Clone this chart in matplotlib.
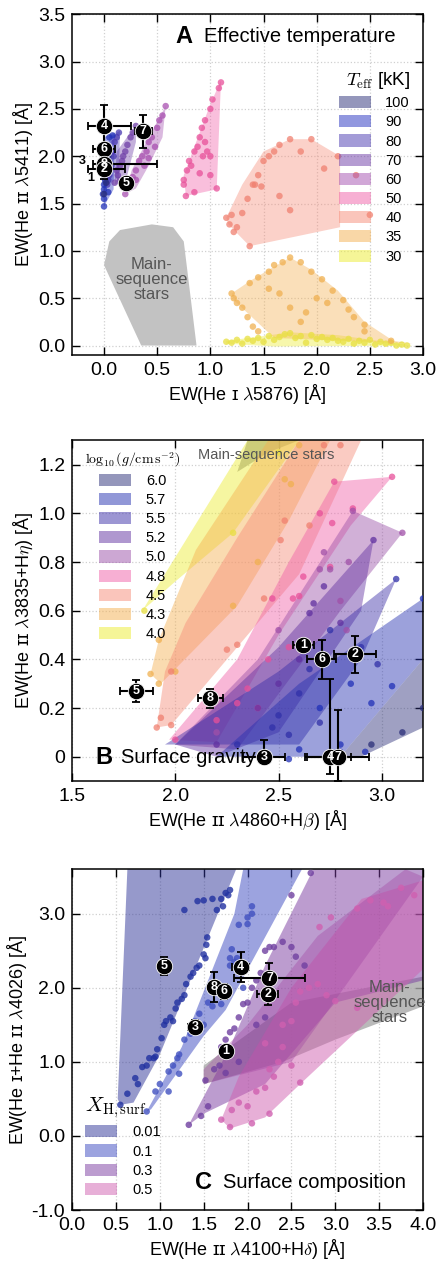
import matplotlib
matplotlib.use("Agg")
import matplotlib.pyplot as plt
from matplotlib.patches import Polygon, Patch
import numpy as np

plt.rcParams['font.family'] = ['Liberation Sans', 'DejaVu Sans']
plt.rcParams['mathtext.fontset'] = 'cm'

# ---------------- panel A: effective temperature ----------------
teff_labels = ['100', '90', '80', '70', '60', '50', '40', '35', '30']
teff_fill = ['#2a2e78', '#2530c0', '#4838b0', '#6c3aa6', '#a450b0', '#f060a8', '#f68c78', '#f4b050', '#ecec30']
teff_dot = ['#2a2e78', '#2030b8', '#4838b0', '#7040a8', '#a850b0', '#e8509a', '#f08070', '#f0b050', '#e8e040']

teffA_poly = {
    '100': [(0.0, 1.6), (0.0, 2.05), (0.04, 2.02), (0.03, 1.7)],
    '90': [(0.0, 1.47), (-0.02, 1.8), (0.0, 2.2), (0.1, 2.25), (0.09, 1.65)],
    '80': [(0.02, 1.68), (0.05, 2.2), (0.15, 2.27), (0.14, 1.78)],
    '70': [(0.1, 1.7), (0.12, 2.05), (0.3, 2.33), (0.3, 2.15), (0.2, 1.72)],
    '60': [(0.2, 1.6), (0.26, 1.85), (0.42, 2.2), (0.58, 2.53), (0.55, 2.2), (0.42, 1.9), (0.3, 1.66)],
    '50': [(0.77, 1.58), (0.75, 1.8), (0.85, 2.1), (1.0, 2.55), (1.1, 2.8), (1.06, 1.65)],
    '40': [(1.15, 1.35), (1.3, 1.7), (1.5, 2.05), (1.75, 2.18), (1.95, 2.18), (2.22, 2.0),
           (2.22, 1.25), (1.37, 1.05), (1.17, 1.28)],
    '35': [(1.2, 0.55), (1.37, 0.68), (1.55, 0.8), (1.75, 0.93), (1.95, 0.8), (2.2, 0.58),
           (2.45, 0.25), (2.72, 0.05), (2.9, 0.02), (1.6, 0.08), (1.22, 0.48)],
    '30': [(1.15, 0.05), (1.5, 0.1), (1.75, 0.14), (2.2, 0.11), (2.9, 0.0), (1.6, -0.01), (1.15, 0.02)],
}

teffA_x = {
    '100': [0.0, 0.02, 0.02, 0.04],
    '90': [0.0, 0.0, -0.01, 0.0, 0.0, 0.01, 0.0, 0.02, 0.03, 0.03, 0.05, 0.08, 0.02, 0.04],
    '80': [0.03, 0.05, 0.05, 0.08, 0.1, 0.12, 0.14, 0.07, 0.09, 0.04],
    '70': [0.1, 0.13, 0.15, 0.18, 0.2, 0.22, 0.25, 0.3, 0.27, 0.17, 0.12, 0.15],
    '60': [0.2, 0.22, 0.27, 0.3, 0.33, 0.36, 0.4, 0.42, 0.45, 0.5, 0.52, 0.55, 0.58, 0.48, 0.42, 0.38, 0.3],
    '50': [0.77, 0.75, 0.75, 0.78, 0.8, 0.85, 0.88, 0.9, 0.92, 0.95, 0.97, 1.0, 1.02, 1.08, 1.1,
           1.06, 0.9, 0.93, 1.0, 0.85, 0.95, 1.0, 0.82],
    '40': [1.15, 1.2, 1.18, 1.25, 1.3, 1.35, 1.42, 1.45, 1.5, 1.55, 1.65, 1.75, 1.95, 2.2, 1.85,
           1.6, 1.4, 1.48, 1.65, 1.37, 1.75, 2.07, 2.37, 2.5, 1.22],
    '35': [1.2, 1.22, 1.25, 1.3, 1.35, 1.4, 1.45, 1.37, 1.45, 1.55, 1.6, 1.68, 1.75, 1.85, 1.95,
           2.05, 2.15, 2.25, 2.3, 2.35, 2.45, 2.45, 2.7, 1.65, 1.75, 1.9, 1.85, 2.0, 2.1, 1.55],
    '30': [1.15, 1.2, 1.25, 1.3, 1.35, 1.4, 1.45, 1.5, 1.55, 1.6, 1.65, 1.7, 1.75, 1.8, 1.85, 1.9,
           1.95, 2.0, 2.05, 2.1, 2.15, 2.2, 2.25, 2.3, 2.35, 2.4, 2.45, 2.5, 2.55, 2.6, 2.65, 2.7,
           2.75, 2.8, 2.85],
}
teffA_y = {
    '100': [1.6, 1.72, 1.88, 2.0],
    '90': [1.47, 1.55, 1.6, 1.65, 1.7, 1.75, 1.8, 1.9, 2.0, 2.1, 2.2, 2.22, 1.85, 1.62],
    '80': [1.7, 1.8, 1.95, 2.05, 2.15, 2.2, 2.25, 1.9, 2.0, 1.75],
    '70': [1.72, 1.8, 1.9, 2.0, 2.05, 2.12, 2.2, 2.32, 2.25, 1.95, 1.85, 1.75],
    '60': [1.6, 1.68, 1.78, 1.85, 1.95, 2.0, 2.05, 2.15, 2.2, 2.3, 2.38, 2.43, 2.53, 2.1, 1.98, 1.9, 1.75],
    '50': [1.58, 1.7, 1.75, 1.85, 1.95, 2.05, 2.1, 2.2, 2.3, 2.15, 2.05, 2.5, 2.6, 2.72, 2.78,
           1.66, 1.82, 2.0, 1.8, 1.62, 2.38, 2.0, 1.9],
    '40': [1.35, 1.38, 1.28, 1.25, 1.4, 1.55, 1.7, 1.8, 1.95, 2.0, 2.12, 2.18, 2.18, 2.0, 2.05,
           2.05, 1.7, 1.68, 1.58, 1.05, 1.43, 1.87, 1.8, 1.38, 1.2],
    '35': [0.55, 0.5, 0.45, 0.4, 0.3, 0.2, 0.15, 0.66, 0.72, 0.78, 0.85, 0.88, 0.93, 0.88, 0.78,
           0.7, 0.58, 0.48, 0.38, 0.3, 0.22, 0.15, 0.05, 0.55, 0.4, 0.35, 0.25, 0.5, 0.45, 0.6],
    '30': [0.04, 0.03, 0.06, 0.02, 0.07, 0.05, 0.08, 0.04, 0.1, 0.06, 0.09, 0.12, 0.13, 0.08, 0.1,
           0.03, 0.11, 0.07, 0.09, 0.06, 0.08, 0.05, 0.04, 0.07, 0.02, 0.05, 0.03, 0.06, 0.01, 0.04,
           0.02, 0.03, 0.0, 0.01, 0.0],
}
msA_poly = [(0.0, 0.85), (0.05, 1.1), (0.15, 1.22), (0.45, 1.28), (0.65, 1.25), (0.75, 1.1),
            (0.87, 0.0), (0.35, 0.0)]

starsA_id = ['4', '7', '6', '8', '2', '5']
starsA_x = [0.0, 0.37, 0.0, 0.0, 0.0, 0.21]
starsA_y = [2.32, 2.27, 2.08, 1.92, 1.86, 1.72]
starsA_xlo = [0.15, 0.08, 0.1, 0.1, 0.15, 0.05]
starsA_xhi = [0.25, 0.08, 0.1, 0.5, 0.2, 0.05]
starsA_ylo = [0.22, 0.18, 0.05, 0.05, 0.1, 0.05]
starsA_yhi = [0.22, 0.17, 0.05, 0.05, 0.08, 0.05]

# ---------------- panel B: surface gravity ----------------
logg_labels = ['6.0', '5.7', '5.5', '5.2', '5.0', '4.8', '4.5', '4.3', '4.0']
logg_fill = ['#2a2e78', '#2530b0', '#3a2ea8', '#6030a0', '#9a50a8', '#f060a8', '#f68c78', '#f4b050', '#ecec30']
logg_dot = ['#2a2e78', '#2030b8', '#3030a8', '#6030a0', '#a050a8', '#e8509a', '#f08070', '#f0b050', '#e8e040']

loggB_poly = {
    '4.0': [(1.84, 0.6), (2.35, 1.3), (2.6, 1.3), (2.28, 0.92), (2.0, 0.72)],
    '4.3': [(1.88, 0.34), (1.93, 0.3), (2.3, 0.62), (2.55, 0.97), (2.75, 1.3), (2.45, 1.3),
            (2.1, 0.85), (1.92, 0.48)],
    '4.5': [(1.91, 0.12), (1.98, 0.13), (2.3, 0.45), (2.6, 0.75), (2.9, 1.3), (2.6, 1.3),
            (2.3, 0.9), (2.05, 0.55), (1.95, 0.35)],
    '4.8': [(1.97, 0.07), (2.3, 0.4), (2.55, 0.8), (2.77, 1.13), (3.05, 1.15), (2.85, 0.95),
            (2.5, 0.5), (2.2, 0.06)],
    '5.0': [(2.0, 0.05), (2.4, 0.4), (2.86, 1.01), (3.1, 0.92), (2.8, 0.6), (2.3, 0.03)],
    '5.2': [(2.0, 0.05), (2.5, 0.45), (2.96, 0.89), (2.9, 0.6), (2.5, 0.1), (2.2, 0.0)],
    '5.5': [(1.95, 0.05), (2.5, 0.35), (3.07, 0.73), (2.9, 0.4), (2.6, 0.05)],
    '5.7': [(2.2, 0.0), (2.6, 0.3), (3.2, 0.65), (3.2, 0.4), (2.8, 0.0)],
    '6.0': [(2.8, 0.0), (3.2, 0.4), (3.2, 0.12), (2.9, 0.0)],
}
loggB_x = {
    '4.0': [1.85, 2.28, 2.5],
    '4.3': [1.88, 1.92, 1.92, 2.28, 2.4, 2.53, 2.56, 2.0, 2.6],
    '4.5': [1.91, 1.93, 1.98, 1.98, 2.25, 2.3, 2.43, 2.51, 2.53, 2.8, 2.72, 2.65],
    '4.8': [2.0, 2.2, 2.3, 2.35, 2.45, 2.47, 2.57, 2.62, 2.7, 2.77, 2.76, 3.05, 2.86, 2.4, 2.55, 2.6, 2.75],
    '5.0': [2.2, 2.5, 2.6, 2.72, 2.7, 2.75, 2.84, 2.8, 2.86, 3.1, 2.83],
    '5.2': [2.2, 2.4, 2.5, 2.65, 2.67, 2.72, 2.96, 2.8, 2.6],
    '5.5': [2.3, 2.47, 2.5, 2.55, 2.6, 2.65, 2.75, 3.07, 2.9, 2.98, 2.7, 2.8],
    '5.7': [2.45, 2.55, 2.6, 2.7, 2.85, 2.95, 3.05, 3.2, 2.8, 2.92],
    '6.0': [2.8, 2.95, 3.1, 3.2],
}
loggB_y = {
    '4.0': [0.6, 0.92, 1.25],
    '4.3': [0.34, 0.3, 0.48, 0.62, 0.8, 1.14, 1.12, 0.35, 1.28],
    '4.5': [0.12, 0.16, 0.13, 0.35, 0.44, 0.46, 0.65, 0.89, 0.97, 1.28, 1.28, 0.95],
    '4.8': [0.07, 0.15, 0.22, 0.28, 0.4, 0.65, 0.65, 0.74, 1.0, 1.13, 0.96, 1.15, 1.02, 0.2, 0.45, 0.66, 0.78],
    '5.0': [0.1, 0.52, 0.45, 0.84, 0.77, 0.77, 0.8, 0.64, 1.01, 0.92, 0.52],
    '5.2': [0.05, 0.2, 0.3, 0.59, 0.63, 0.7, 0.89, 0.55, 0.4],
    '5.5': [0.05, 0.12, 0.17, 0.09, 0.26, 0.36, 0.52, 0.73, 0.45, 0.38, 0.14, 0.02],
    '5.7': [0.0, -0.01, 0.03, 0.2, 0.3, 0.22, 0.29, 0.65, 0.05, 0.02],
    '6.0': [0.0, 0.05, 0.1, 0.2],
}
msB_poly = [(2.3, 1.17), (2.45, 1.25), (2.6, 1.3), (2.35, 1.3)]

starsB_id = ['5', '8', '1', '6', '2', '3', '4', '7']
starsB_x = [1.81, 2.17, 2.62, 2.71, 2.87, 2.43, 2.75, 2.79]
starsB_y = [0.27, 0.24, 0.46, 0.40, 0.42, 0.0, 0.0, 0.0]
starsB_xlo = [0.08, 0.06, 0.05, 0.07, 0.1, 0.1, 0.12, 0.15]
starsB_xhi = [0.08, 0.06, 0.05, 0.07, 0.1, 0.1, 0.1, 0.15]
starsB_ylo = [0.045, 0.04, 0.02, 0.08, 0.075, 0.0, 0.07, 0.1]
starsB_yhi = [0.045, 0.04, 0.02, 0.08, 0.075, 0.07, 0.32, 0.19]

# ---------------- panel C: surface composition ----------------
xh_labels = ['0.01', '0.1', '0.3', '0.5']
xh_fill = ['#2e3498', '#3a48c0', '#7a3aa0', '#d060b0']
xh_dot = ['#2030a0', '#4050c0', '#7040a0', '#d060b0']

xhC_poly = {
    '0.01': [(0.52, 0.5), (0.63, 3.6), (1.87, 3.6), (1.0, 1.1), (0.7, 0.45), (0.55, 0.42)],
    '0.1': [(0.85, 0.33), (1.25, 1.2), (1.85, 3.0), (1.95, 3.6), (2.62, 3.6), (1.75, 1.7),
            (1.5, 1.35), (0.9, 0.36)],
    '0.3': [(1.33, 0.15), (1.8, 1.2), (2.2, 2.3), (2.75, 3.6), (4.0, 3.6), (4.0, 2.1), (3.0, 1.8),
            (2.2, 0.7), (1.5, 0.3)],
    '0.5': [(1.7, 0.22), (1.8, 0.1), (2.2, 0.25), (2.6, 0.7), (4.0, 2.25), (4.0, 3.45), (3.3, 3.2),
            (2.5, 2.0), (1.9, 0.8)],
}
xhC_x = {
    '0.01': [0.55, 0.63, 0.72, 0.75, 0.8, 0.85, 0.88, 0.93, 0.95, 0.97, 1.02, 1.05, 1.07, 1.12,
             1.15, 1.18, 1.2, 1.25, 1.28, 1.3, 1.35, 1.38, 1.42, 1.45, 1.5, 1.53, 1.54, 1.52,
             1.28, 1.5, 1.6, 1.7, 1.75, 1.8, 1.78, 1.72, 1.65, 1.43],
    '0.1': [0.85, 0.95, 1.0, 1.1, 1.15, 1.2, 1.22, 1.28, 1.35, 1.4, 1.45, 1.5, 1.55, 1.6, 1.7,
            1.75, 1.8, 1.8, 1.82, 1.88, 1.95, 1.9, 2.0, 2.05, 2.05, 2.0, 1.85, 1.22, 1.1],
    '0.3': [1.33, 1.47, 1.55, 1.52, 1.62, 1.68, 1.7, 1.75, 1.8, 1.85, 1.9, 1.95, 2.0, 2.05, 2.1,
            2.15, 2.2, 2.25, 2.3, 2.4, 2.5, 2.55, 2.65, 2.72, 2.5, 1.9, 2.1, 2.2, 1.75],
    '0.5': [1.7, 1.8, 1.82, 1.9, 2.0, 2.05, 2.1, 2.2, 2.25, 2.3, 2.25, 2.35, 2.4, 2.5, 2.4, 2.5,
            2.55, 2.6, 2.6, 2.7, 2.8, 2.9, 3.0, 2.82, 2.95, 3.25, 3.4, 3.55, 3.6, 3.75, 3.9, 3.25, 2.2],
}
xhC_y = {
    '0.01': [0.42, 0.57, 0.78, 0.7, 0.93, 0.95, 1.05, 1.05, 1.07, 1.17, 1.32, 1.5, 1.55, 1.6,
             1.55, 1.72, 1.8, 1.85, 1.9, 2.05, 2.15, 2.2, 2.27, 2.3, 2.45, 2.58, 2.68, 2.4,
             3.05, 3.18, 3.2, 3.2, 3.28, 3.32, 3.25, 3.1, 3.05, 3.17],
    '0.1': [0.33, 0.6, 0.7, 0.87, 0.95, 1.05, 1.1, 1.3, 1.38, 1.55, 1.65, 1.5, 1.8, 1.75, 1.78,
            2.0, 2.3, 2.4, 2.52, 2.4, 2.0, 2.85, 2.95, 3.0, 3.1, 2.86, 2.35, 0.84, 0.6],
    '0.3': [0.15, 0.27, 0.4, 0.75, 0.9, 0.95, 1.2, 1.3, 1.4, 1.45, 1.6, 1.78, 1.8, 2.0, 2.1,
            2.2, 2.5, 2.55, 2.55, 2.62, 2.55, 2.42, 2.3, 3.55, 3.25, 1.0, 1.5, 1.6, 0.85],
    '0.5': [0.22, 0.12, 0.35, 0.45, 0.4, 0.17, 0.6, 0.65, 0.3, 0.8, 0.9, 1.0, 1.2, 0.95, 1.5,
            1.55, 1.8, 0.72, 1.95, 2.0, 2.05, 1.9, 1.82, 2.82, 2.95, 3.07, 3.18, 3.15, 3.1, 3.35,
            3.25, 1.73, 1.25],
}
xhC_extra = [(1.5, 0.7), (2.5, 1.0), (4.0, 3.5), (3.8, 3.6), (2.8, 2.7), (2.0, 1.5), (1.5, 0.9)]
msC_poly = [(1.5, 0.7), (1.5, 0.95), (2.5, 1.8), (4.0, 2.15), (4.0, 1.75), (3.0, 1.3), (2.4, 1.0)]

starsC_id = ['5', '4', '7', '8', '6', '2', '3', '1']
starsC_x = [1.05, 1.92, 2.25, 1.62, 1.73, 2.23, 1.4, 1.75]
starsC_y = [2.29, 2.28, 2.13, 2.01, 1.95, 1.92, 1.47, 1.15]
starsC_xerr = [0.0, 0.1, 0.4, 0.05, 0.05, 0.12, 0.08, 0.0]
starsC_yerr = [0.12, 0.2, 0.2, 0.2, 0.1, 0.15, 0.1, 0.0]


def style_axes(ax):
    ax.tick_params(direction='in', top=True, right=True, length=6, width=1, labelsize=14, pad=5)
    ax.grid(True, color='#d0d0d0', linestyle=':', linewidth=0.9)
    ax.set_axisbelow(True)
    for s in ax.spines.values():
        s.set_linewidth(1.1)


def draw_stars(ax, ids, xs, ys, xerr, yerr):
    ax.errorbar(xs, ys, xerr=xerr, yerr=yerr, fmt='none', ecolor='black', elinewidth=1.5,
                capsize=3, capthick=1.3, zorder=8)
    ax.scatter(xs, ys, s=140, c='black', edgecolors='white', linewidths=0.6, zorder=9)
    for i, x, y in zip(ids, xs, ys):
        ax.text(x, y, i, color='white', fontsize=9, fontweight='bold', ha='center', va='center', zorder=10)


def legend_handles(labels, fills, alpha):
    return [Patch(facecolor=c, edgecolor='none', alpha=alpha, label=l) for l, c in zip(labels, fills)]


fig = plt.figure(figsize=(4.37, 12.62), dpi=100)

# ---- A ----
axA = fig.add_axes([0.165, 0.7187, 0.803, 0.270])
style_axes(axA)
axA.add_patch(Polygon(msA_poly, closed=True, facecolor='#c2c2c2', edgecolor='none', zorder=1))
axA.text(0.45, 0.7, 'Main-\nsequence\nstars', ha='center', va='center', fontsize=12,
         color='#555555', linespacing=1.0, zorder=2)
for lab, fc, dc in zip(teff_labels[::-1], teff_fill[::-1], teff_dot[::-1]):
    axA.add_patch(Polygon(teffA_poly[lab], closed=True, facecolor=fc, edgecolor='none', alpha=0.4, zorder=2))
    axA.scatter(teffA_x[lab], teffA_y[lab], s=22, c=dc, alpha=0.75, edgecolors='none', zorder=3)
draw_stars(axA, starsA_id, starsA_x, starsA_y, [starsA_xlo, starsA_xhi], [starsA_ylo, starsA_yhi])
axA.text(-0.2, 1.95, '3', fontsize=9, fontweight='bold', ha='center', va='center', zorder=10)
axA.text(-0.12, 1.77, '1', fontsize=9, fontweight='bold', ha='center', va='center', zorder=10)
axA.set_xlim(-0.3, 3.0)
axA.set_ylim(-0.1, 3.5)
axA.set_xticks(np.arange(0, 3.01, 0.5))
axA.set_yticks(np.arange(0, 3.51, 0.5))
axA.xaxis.set_major_formatter(matplotlib.ticker.FormatStrFormatter('%.1f'))
axA.yaxis.set_major_formatter(matplotlib.ticker.FormatStrFormatter('%.1f'))
axA.set_xlabel('EW(He ɪ $\\lambda$5876) [Å]', fontsize=13, labelpad=2)
axA.set_ylabel('EW(He ɪɪ $\\lambda$5411) [Å]', fontsize=13, labelpad=2)
axA.text(0.293, 0.935, 'A', transform=axA.transAxes, fontsize=17, fontweight='bold',
         fontstretch='condensed', va='center', ha='left')
axA.text(0.375, 0.935, 'Effective temperature', transform=axA.transAxes, fontsize=14.5, va='center')
legA = axA.legend(handles=legend_handles(teff_labels, teff_fill, 0.5), loc='upper right',
                  bbox_to_anchor=(1.0, 0.875), frameon=False, fontsize=10.5, handlelength=2.2,
                  handleheight=0.9, labelspacing=0.35, handletextpad=1.0,
                  title='$T_{\\rm eff}$ [kK]', title_fontsize=13.5)
legA._legend_box.align = 'right'

# ---- B ----
axB = fig.add_axes([0.165, 0.3811, 0.803, 0.270])
style_axes(axB)
axB.add_patch(Polygon(msB_poly, closed=True, facecolor='#a8a8a8', edgecolor='none', alpha=0.85, zorder=1))
for lab, fc, dc in zip(logg_labels[::-1], logg_fill[::-1], logg_dot[::-1]):
    axB.add_patch(Polygon(loggB_poly[lab], closed=True, facecolor=fc, edgecolor='none', alpha=0.45, zorder=2))
    axB.scatter(loggB_x[lab], loggB_y[lab], s=22, c=dc, alpha=0.75, edgecolors='none', zorder=3)
draw_stars(axB, starsB_id, starsB_x, starsB_y, [starsB_xlo, starsB_xhi], [starsB_ylo, starsB_yhi])
axB.text(2.44, 1.24, 'Main-sequence stars', ha='center', va='center', fontsize=10.5, color='#555555', zorder=5)
axB.set_xlim(1.5, 3.2)
axB.set_ylim(-0.1, 1.3)
axB.set_xticks([1.5, 2.0, 2.5, 3.0])
axB.set_yticks([0, 0.2, 0.4, 0.6, 0.8, 1.0, 1.2])
axB.set_yticklabels(['0', '0.2', '0.4', '0.6', '0.8', '1.0', '1.2'])
axB.set_xlabel('EW(He ɪɪ $\\lambda$4860+H$\\beta$) [Å]', fontsize=13, labelpad=2)
axB.set_ylabel('EW(He ɪɪ $\\lambda$3835+H$\\eta$) [Å]', fontsize=13, labelpad=2)
axB.text(0.066, 0.07, 'B', transform=axB.transAxes, fontsize=17, fontweight='bold',
         fontstretch='condensed', va='center', ha='left', zorder=11)
axB.text(0.14, 0.07, 'Surface gravity', transform=axB.transAxes, fontsize=14.5, va='center', zorder=11)
legB = axB.legend(handles=legend_handles(logg_labels, logg_fill, 0.5), loc='upper left',
                  bbox_to_anchor=(0.0, 1.01), frameon=False, fontsize=10.5, handlelength=2.2,
                  handleheight=0.9, labelspacing=0.35, handletextpad=1.0,
                  title='$\\log_{10}(g/\\mathrm{cm\\,s^{-2}})$', title_fontsize=10)

# ---- C ----
axC = fig.add_axes([0.165, 0.0412, 0.803, 0.270])
style_axes(axC)
axC.add_patch(Polygon(msC_poly, closed=True, facecolor='#a8a8a8', edgecolor='none', alpha=0.8, zorder=1))
for lab, fc in zip(xh_labels, xh_fill):
    axC.add_patch(Polygon(xhC_poly[lab], closed=True, facecolor=fc, edgecolor='none', alpha=0.5, zorder=2))
axC.add_patch(Polygon(xhC_extra, closed=True, facecolor='#a040a0', edgecolor='none', alpha=0.35, zorder=2))
for lab, dc in zip(xh_labels, xh_dot):
    axC.scatter(xhC_x[lab], xhC_y[lab], s=22, c=dc, alpha=0.8, edgecolors='none', zorder=3)
draw_stars(axC, starsC_id, starsC_x, starsC_y, starsC_xerr, starsC_yerr)
axC.text(3.62, 1.8, 'Main-\nsequence\nstars', ha='center', va='center', fontsize=12,
         color='#555555', linespacing=1.0, zorder=5)
axC.set_xlim(0, 4.0)
axC.set_ylim(-1.0, 3.6)
axC.set_xticks(np.arange(0, 4.01, 0.5))
axC.set_yticks([-1.0, 0.0, 1.0, 2.0, 3.0])
axC.xaxis.set_major_formatter(matplotlib.ticker.FormatStrFormatter('%.1f'))
axC.yaxis.set_major_formatter(matplotlib.ticker.FormatStrFormatter('%.1f'))
axC.set_xlabel('EW(He ɪɪ $\\lambda$4100+H$\\delta$) [Å]', fontsize=13, labelpad=2)
axC.set_ylabel('EW(He ɪ+He ɪɪ $\\lambda$4026) [Å]', fontsize=13, labelpad=2)
axC.text(0.35, 0.08, 'C', transform=axC.transAxes, fontsize=17, fontweight='bold',
         fontstretch='condensed', va='center', ha='left')
axC.text(0.43, 0.08, 'Surface composition', transform=axC.transAxes, fontsize=14.5, va='center')
legC = axC.legend(handles=legend_handles(xh_labels, xh_fill, 0.5), loc='lower left',
                  bbox_to_anchor=(0.0, 0.0), frameon=False, fontsize=10.5, handlelength=2.2,
                  handleheight=0.9, labelspacing=0.35, handletextpad=1.0,
                  title='$X_{\\rm H,surf}$', title_fontsize=15)
legC._legend_box.align = 'left'

fig.savefig('out.png', dpi=100)
